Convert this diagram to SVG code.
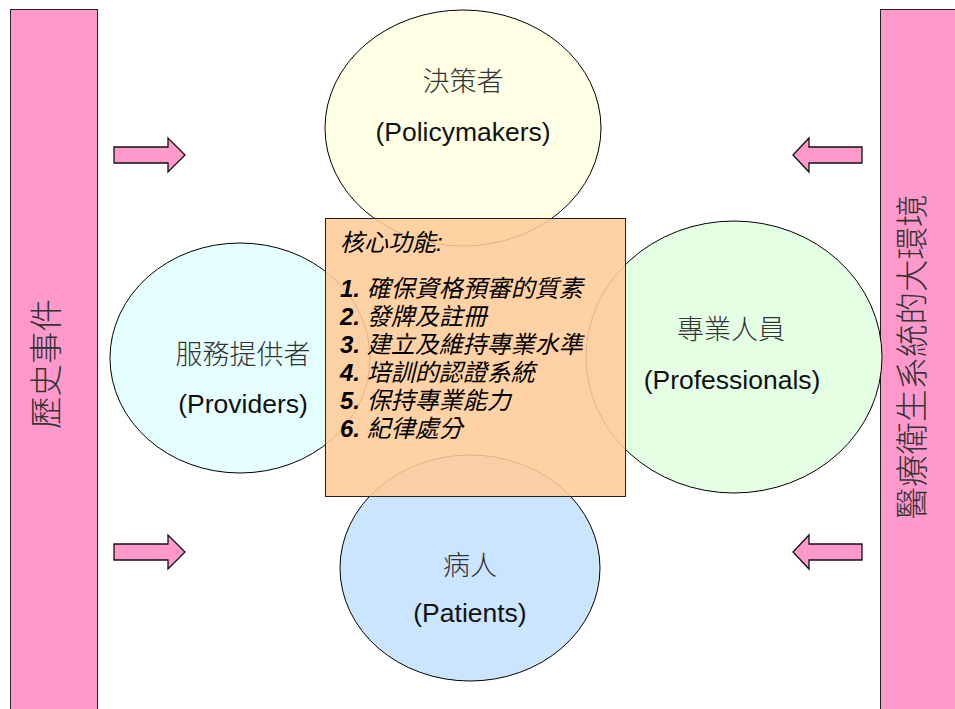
<svg xmlns="http://www.w3.org/2000/svg" width="955" height="709" viewBox="0 0 955 709">
<style>
.bar{fill:#FF99CC;stroke:#222;stroke-width:1}
.arr{fill:#FF99CC;stroke:#111;stroke-width:1.3}
.ell{stroke:#000;stroke-width:1}
.zh{font-family:"Noto Sans CJK TC","Liberation Sans",sans-serif;font-size:27px;fill:#333;text-anchor:middle;font-weight:300}
.en{font-family:"Liberation Sans","Noto Sans CJK TC",sans-serif;font-size:26.5px;fill:#111;text-anchor:middle}
.side{font-family:"Noto Sans CJK TC",sans-serif;font-size:32.5px;fill:#333;text-anchor:middle;font-weight:300}
.core{font-family:"Liberation Sans","Noto Sans CJK TC",sans-serif;font-size:24px;font-style:italic;fill:#000}
.num{font-weight:bold}
</style>
<g id="history">
<rect class="bar" x="10.5" y="9.5" width="87" height="710"/>
<text class="side" transform="translate(58,364) rotate(-90)">歷史事件</text>
</g>
<g id="environment">
<rect class="bar" x="880.5" y="9.5" width="90" height="710"/>
<text class="side" transform="translate(924,357) rotate(-90)">醫療衛生系統的大環境</text>
</g>
<g id="connectors">
<polygon class="arr" points="114,147 168,147 168,138 185,155 168,172 168,163 114,163"/>
<polygon class="arr" points="114,544 168,544 168,535 185,552 168,569 168,560 114,560"/>
<polygon class="arr" points="862,147 809,147 809,138 793,155 809,172 809,163 862,163"/>
<polygon class="arr" points="862,544 809,544 809,535 793,552 809,569 809,560 862,560"/>
</g>
<g id="policymakers">
<ellipse class="ell" cx="463" cy="128" rx="138" ry="118" fill="#FFFFE5"/>
<text class="zh" x="463" y="91">決策者</text>
<text class="en" x="463" y="141">(Policymakers)</text>
</g>
<g id="providers">
<ellipse class="ell" cx="240" cy="358" rx="130" ry="115" fill="#E5FFFF"/>
<text class="zh" x="243" y="364">服務提供者</text>
<text class="en" x="243" y="413">(Providers)</text>
</g>
<g id="professionals">
<ellipse class="ell" cx="734" cy="357" rx="148" ry="136" fill="#E5FFE5"/>
<text class="zh" x="731" y="339">專業人員</text>
<text class="en" x="732" y="389">(Professionals)</text>
</g>
<g id="patients">
<ellipse class="ell" cx="470" cy="568" rx="130" ry="113" fill="#CCE5FF"/>
<text class="zh" x="470" y="575">病人</text>
<text class="en" x="470" y="622">(Patients)</text>
</g>
<g id="core">
<rect x="325.5" y="218.5" width="300" height="278" fill="#FFCC99" fill-opacity="0.88" stroke="#222" stroke-width="1"/>
<text class="core" x="340" y="251">核心功能:</text>
<text class="core" x="340" y="297"><tspan class="num">1.</tspan> 確保資格預審的質素</text>
<text class="core" x="340" y="325"><tspan class="num">2.</tspan> 發牌及註冊</text>
<text class="core" x="340" y="353"><tspan class="num">3.</tspan> 建立及維持專業水準</text>
<text class="core" x="340" y="381"><tspan class="num">4.</tspan> 培訓的認證系統</text>
<text class="core" x="340" y="409"><tspan class="num">5.</tspan> 保持專業能力</text>
<text class="core" x="340" y="437"><tspan class="num">6.</tspan> 紀律處分</text>
</g>
</svg>
